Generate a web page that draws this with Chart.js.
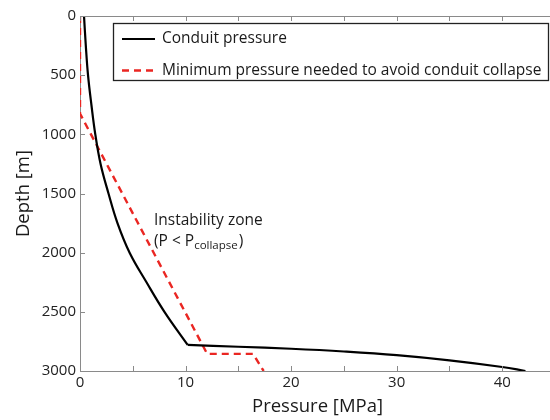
<!DOCTYPE html>
<html>
<head>
<meta charset="utf-8">
<script src="https://cdn.jsdelivr.net/npm/chart.js@4/dist/chart.umd.min.js"></script>
<style>
html,body{margin:0;padding:0;overflow:hidden;background:#fff;width:550px;height:420px;}
#wrap{width:565px;height:420px;}
</style>
</head>
<body>
<div id="wrap"><canvas id="c" width="565" height="420"></canvas></div>
<script>
// Conduit pressure (MPa) vs depth (m); kink at index 11
const conduitPressure = [0.38, 0.55, 0.76, 1.08, 1.45, 1.95, 2.7, 3.55, 4.7, 6.3, 8.0, 10.2, 15, 20, 25, 30, 35, 40, 42.2];
const conduitDepth    = [0, 250, 500, 750, 1000, 1250, 1500, 1750, 2000, 2250, 2500, 2780, 2795, 2812, 2835, 2866, 2910, 2966, 3000];
const conduitKinkIndex = 11;
// Minimum pressure needed to avoid conduit collapse
const collapsePressure = [0, 0, 12.05, 16.4, 17.4];
const collapseDepth    = [0, 825, 2855, 2855, 3000];
const seriesNames = ['Conduit pressure', 'Minimum pressure needed to avoid conduit collapse'];
const xTickMarks = [0, 5, 10, 15, 20, 25, 30, 35, 40, 45];
const yTickMarks = [0, 500, 1000, 1500, 2000, 2500, 3000];

const FONT = '"Open Sans", "Liberation Sans", sans-serif';
const RED = 'rgb(234,38,34)';
const AXIS = '#8a8a8a';

const toXY = (xs, ys) => xs.map((x, i) => ({x, y: ys[i]}));
const conduitPts = toXY(conduitPressure, conduitDepth);

const legendStyles = [
  {color: '#000', width: 2.2, dash: []},
  {color: RED, width: 2.4, dash: [7, 5]}
];

const framePlugin = {
  id: 'frame',
  afterDatasetsDraw(chart) {
    const ctx = chart.ctx, a = chart.chartArea;
    const xs = chart.scales.x, ys = chart.scales.y;
    ctx.save();
    ctx.strokeStyle = AXIS; ctx.lineWidth = 1;
    ctx.beginPath(); ctx.moveTo(a.left, a.top + 0.5); ctx.lineTo(a.right, a.top + 0.5); ctx.stroke();
    ctx.beginPath();
    xTickMarks.forEach(v => {
      const px = Math.round(xs.getPixelForValue(v)) + 0.5;
      ctx.moveTo(px, a.bottom); ctx.lineTo(px, a.bottom - 5);
      ctx.moveTo(px, a.top); ctx.lineTo(px, a.top + 5);
    });
    yTickMarks.forEach(v => {
      const py = Math.round(ys.getPixelForValue(v)) + 0.5;
      ctx.moveTo(a.left, py); ctx.lineTo(a.left + 5, py);
    });
    ctx.stroke();

    // legend box
    const bx = 113.5, by = 23.5, bw = 435, bh = 57;
    ctx.fillStyle = '#fff';
    ctx.fillRect(bx, by, bw, bh);
    ctx.strokeStyle = '#222'; ctx.lineWidth = 1.3;
    ctx.strokeRect(bx, by, bw, bh);
    const rows = [39, 70.5];
    seriesNames.forEach((name, i) => {
      const st = legendStyles[i];
      ctx.strokeStyle = st.color; ctx.lineWidth = st.width;
      ctx.setLineDash(st.dash);
      ctx.beginPath(); ctx.moveTo(122, rows[i]); ctx.lineTo(155, rows[i]); ctx.stroke();
      ctx.setLineDash([]);
      ctx.fillStyle = '#1a1a1a';
      ctx.font = '15.5px ' + FONT;
      ctx.textBaseline = 'middle'; ctx.textAlign = 'left';
      ctx.fillText(name, 162, rows[i]);
    });

    // annotation
    ctx.fillStyle = '#1a1a1a';
    ctx.font = '15.5px ' + FONT;
    ctx.textBaseline = 'middle'; ctx.textAlign = 'left';
    ctx.fillText('Instability zone', 154, 221);
    let x = 154;
    const y2 = 242;
    const s1 = '(P < P';
    ctx.fillText(s1, x, y2); x += ctx.measureText(s1).width;
    ctx.font = '11.5px ' + FONT;
    ctx.fillText('collapse', x, y2 + 4); x += ctx.measureText('collapse').width;
    ctx.font = '15.5px ' + FONT;
    ctx.fillText(')', x + 1, y2);
    ctx.restore();
  }
};

new Chart(document.getElementById('c'), {
  type: 'scatter',
  data: {
    datasets: [
      {label: seriesNames[0], data: conduitPts.slice(0, conduitKinkIndex + 1), showLine: true,
       borderColor: '#000', borderWidth: 2.2, pointRadius: 0, tension: 0.4, fill: false},
      {label: seriesNames[0] + ' (below kink)', data: conduitPts.slice(conduitKinkIndex), showLine: true,
       borderColor: '#000', borderWidth: 2.2, pointRadius: 0, tension: 0.4, fill: false},
      {label: seriesNames[1], data: toXY(collapsePressure, collapseDepth), showLine: true,
       borderColor: RED, borderWidth: 2.4, borderDash: [7, 5], pointRadius: 0, tension: 0, fill: false}
    ]
  },
  options: {
    responsive: false,
    animation: false,
    layout: {padding: {left: 0, top: 16, right: 10, bottom: 0}},
    plugins: {legend: {display: false}, tooltip: {enabled: false}},
    scales: {
      x: {
        type: 'linear', position: 'bottom', min: 0, max: 45,
        grid: {display: false, drawTicks: false},
        border: {display: true, color: AXIS, width: 1},
        ticks: {stepSize: 10, includeBounds: false, padding: 3, color: '#222',
                font: {family: FONT, size: 15}, maxRotation: 0,
                callback: v => (v % 10 === 0 ? String(v) : '')},
        title: {display: true, text: 'Pressure [MPa]', color: '#1a1a1a',
                font: {family: FONT, size: 18.5}, padding: {top: 0, bottom: 2}},
        afterFit: s => { s.height = 49; }
      },
      y: {
        type: 'linear', reverse: true, min: 0, max: 3000,
        grid: {display: false, drawTicks: false},
        border: {display: true, color: AXIS, width: 1},
        ticks: {stepSize: 500, padding: 4, color: '#222', font: {family: FONT, size: 15},
                callback: v => String(v)},
        title: {display: true, text: 'Depth [m]', color: '#1a1a1a',
                font: {family: FONT, size: 18.5}, padding: {top: 13, bottom: 0}},
        afterFit: s => { s.width = 80; }
      }
    }
  },
  plugins: [framePlugin]
});
</script>
</body>
</html>
